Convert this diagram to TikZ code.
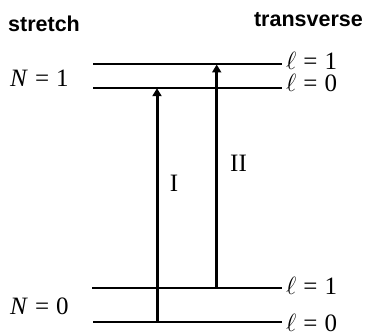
\documentclass[tikz,border=0pt]{standalone}
\usepackage{fontspec}
\setmainfont{Liberation Serif}
\setsansfont{Liberation Sans}
\usetikzlibrary{arrows.meta}
\newcommand{\eqsp}{\hspace{0.28em}=\hspace{0.28em}}
\begin{document}
\begin{tikzpicture}[x=1pt,y=1pt,
  level/.style={line width=2pt},
  trans/.style={line width=3pt,-{Triangle[width=9pt,length=8pt]}},
  lab/.style={font=\fontsize{25}{30}\selectfont,inner sep=0pt},
  head/.style={font=\fontsize{21.5}{25}\selectfont\sffamily\bfseries,inner sep=0pt}]
\useasboundingbox (0,0) rectangle (367,334);
% levels (y = 334 - pixel y)
\coordinate (a1) at (93,269.5); \coordinate (b1) at (282,269.5);
\coordinate (a0) at (93,245.8); \coordinate (b0) at (282,245.8);
\coordinate (c1) at (92,45.7);  \coordinate (d1) at (282,45.7);
\coordinate (c0) at (93,11.7);  \coordinate (d0) at (282,11.7);
\draw[level] (a1) -- (b1);
\draw[level] (a0) -- (b0);
\draw[level] (c1) -- (d1);
\draw[level] (c0) -- (d0);
% transitions
\coordinate (Ifrom) at (157,11.7);  \coordinate (Ito) at (157,245.8);
\coordinate (IIfrom) at (216.7,45.7); \coordinate (IIto) at (216.7,269.5);
\draw[trans] (Ifrom) -- (Ito);
\draw[trans] (IIfrom) -- (IIto);
% labels
\node[lab,anchor=base] (lI) at (174,142) {I};
\node[lab,anchor=base] (lII) at (238.5,162) {II};
\node[lab,anchor=base west] (r1) at (286,264) {$\ell$\eqsp 1};
\node[lab,anchor=base west] (r0) at (286,242) {$\ell$\eqsp 0};
\node[lab,anchor=base west] (s1) at (286,39) {$\ell$\eqsp 1};
\node[lab,anchor=base west] (s0) at (286,2) {$\ell$\eqsp 0};
\node[lab,anchor=base west] (N1) at (10,247.3) {\textit{N}\eqsp 1};
\node[lab,anchor=base west] (N0) at (10,19) {\textit{N}\eqsp 0};
\node[head,anchor=base west] (st) at (8,302) {stretch};
\node[head,anchor=base east] (tr) at (363,307) {transverse};
\end{tikzpicture}
\end{document}
